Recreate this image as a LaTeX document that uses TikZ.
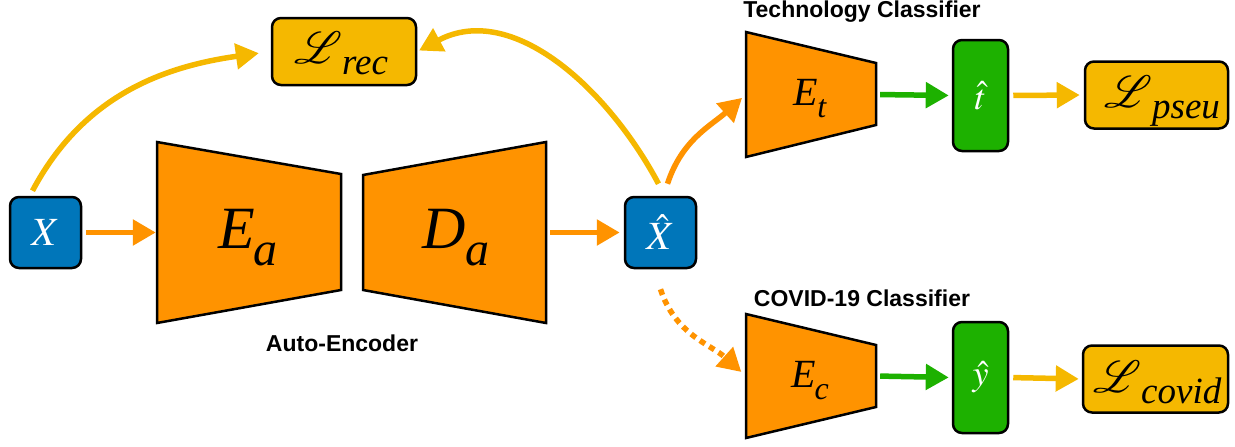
\documentclass[tikz,border=0pt]{standalone}
\usepackage{mathptmx}
\usepackage{mathrsfs}
\usepackage{fontspec}
\setmainfont{Liberation Serif}
\setsansfont{Liberation Sans}
\usetikzlibrary{arrows.meta}
\definecolor{kblue}{HTML}{0076BA}
\definecolor{korange}{HTML}{FF9300}
\definecolor{kyellow}{HTML}{F5B800}
\definecolor{kgreen}{HTML}{1DB100}
\newcommand{\lossL}[1]{{\fontsize{10}{10}\selectfont\scalebox{4.5}{$\mathscr{L}$}}\kern0pt\raisebox{-11pt}{\fontsize{37}{37}\selectfont\itshape #1}}
\newcommand{\subsym}[5]{{\fontsize{#2}{#2}\selectfont\itshape #1}\kern-1pt\raisebox{-#5pt}{\fontsize{#4}{#4}\selectfont\itshape #3}}
\begin{document}
\begin{tikzpicture}[x=1pt,y=-1pt,
  box/.style={draw=black,line width=2.5pt,rounded corners=9pt,inner sep=0pt},
  bluebox/.style={box,fill=kblue,text=white,minimum width=71pt,minimum height=71pt,font=\fontsize{40}{40}\selectfont},
  greenbox/.style={box,fill=kgreen,text=white,minimum width=55pt,minimum height=111pt,font=\fontsize{36}{36}\selectfont},
  lossbox/.style={box,fill=kyellow,text=black,minimum height=67pt},
  trap/.style={draw=black,line width=2.5pt,fill=korange,line join=miter},
  enc/.style={inner sep=0pt},
  arr/.style={line width=5.5pt,-{Triangle[length=23pt,width=25pt]}},
  oarr/.style={arr,draw=korange},
  yarr/.style={arr,draw=kyellow},
  garr/.style={arr,draw=kgreen},
  lbl/.style={font=\sffamily\bfseries\fontsize{23}{23}\selectfont}
]
\useasboundingbox (0,0) rectangle (1235,447);

% auto-encoder
\draw[trap] (157,142) -- (341,174) -- (341,290) -- (157,323) -- cycle;
\node[enc,minimum width=184pt,minimum height=181pt] (Ea) at (249,232.5) {};
\node[enc] (Eal) at (248,238) {\subsym{E}{60}{a}{48}{17}};
\draw[trap] (363,175) -- (546,142) -- (546,323) -- (363,290) -- cycle;
\node[enc,minimum width=183pt,minimum height=181pt] (Da) at (454.5,232.5) {};
\node[enc] (Dal) at (456,238) {\subsym{D}{60}{a}{48}{17}};
\node[lbl] (ae) at (342,343) {Auto-Encoder};

\node[bluebox] (X) at (45.5,232.5) {$X$};
\node[bluebox] (Xh) at (660.5,232.5) {$\hat{X}$};

\node[lossbox,minimum width=144pt] (Lrec) at (344,51.5) {};
\node[enc,anchor=base west] (Lrecl) at (294,63) {\lossL{rec}};

% technology classifier
\draw[trap] (746,32) -- (876,63) -- (876,125) -- (746,157) -- cycle;
\node[enc,minimum width=130pt,minimum height=125pt] (Et) at (811,94.5) {};
\node[enc] (Etl) at (810,99) {\subsym{E}{40}{t}{32}{12}};
\node[lbl] (tc) at (862,12) {Technology Classifier};
\node[greenbox] (th) at (980.5,95.5) {$\hat{t}$};
\node[lossbox,minimum width=143pt] (Lp) at (1156.5,95) {};
\node[enc,anchor=base west] (Lpl) at (1104,107) {\lossL{pseu}};

% covid classifier
\draw[trap] (746,314) -- (876,345) -- (876,407) -- (746,438) -- cycle;
\node[enc,minimum width=130pt,minimum height=124pt] (Ec) at (811,376) {};
\node[enc] (Ecl) at (810,381) {\subsym{E}{40}{c}{32}{12}};
\node[lbl] (cc) at (862,298) {COVID-19 Classifier};
\node[greenbox] (yh) at (980.5,377.5) {$\hat{y}$};
\node[lossbox,minimum width=145pt] (Lc) at (1155.5,379) {};
\node[enc,anchor=base west] (Lcl) at (1093,392) {\lossL{covid}};

% connectors
\draw[oarr,shorten <=4pt,shorten >=1pt] (X.east) -- (Ea.west);
\draw[oarr,shorten <=4pt,shorten >=4pt] (Da.east) -- (Xh.west);
\draw[yarr,shorten >=12pt] (X.north) ++(-13,-5) coordinate (xs) (xs) to[out=62,in=188] (Lrec.west);
\draw[yarr,shorten >=2pt] (Xh.north) ++(-2,-12) coordinate (xhs) (xhs) to[out=118,in=28] (Lrec.east);
\draw[oarr,shorten >=5pt] (Xh.north) ++(7,-12) coordinate (xht) (xht) to[out=72,in=222] (Et.west);
\draw[oarr,dash pattern=on 6pt off 5pt,shorten >=6pt] (Xh.south) ++(0,20) coordinate (xhb) (xhb) to[out=-72,in=138] (Ec.west);
\draw[garr,shorten <=4pt,shorten >=3pt] (Et.east) -- (th.west);
\draw[yarr,shorten <=4pt,shorten >=4pt] (th.east) -- (Lp.west);
\draw[garr,shorten <=4pt,shorten >=3pt] (Ec.east) -- (yh.west);
\draw[yarr,shorten <=4pt,shorten >=3pt] (yh.east) -- (Lc.west);
\end{tikzpicture}
\end{document}
